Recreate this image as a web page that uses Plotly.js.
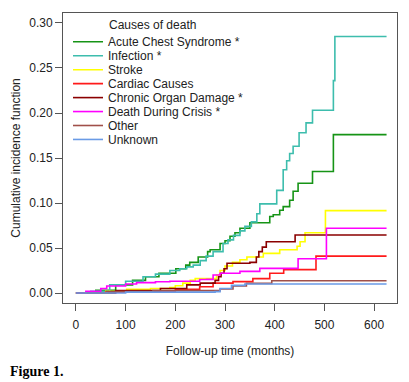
<!DOCTYPE html>
<html>
<head>
<meta charset="utf-8">
<script src="https://cdn.plot.ly/plotly-3.0.1.min.js"></script>
<style>html,body{margin:0;padding:0;background:#fff;}#chart{width:409px;height:382px;}</style>
</head>
<body>
<div id="chart"></div>
<script>
const seriesNames = ["Acute Chest Syndrome *", "Infection *", "Stroke", "Cardiac Causes", "Chronic Organ Damage *", "Death During Crisis *", "Other", "Unknown"];
const seriesColors = ["#169416", "#3dbdad", "#ffff00", "#ff1a1a", "#8b0000", "#ff00ff", "#a0504a", "#6a9be6"];

const acsT = [0, 40, 80, 114, 140, 167, 201, 221, 229, 246, 265, 270, 290, 300, 310, 320, 330, 350, 390, 397, 410, 417, 430, 437, 447, 476, 518, 625];
const acsV = [0, 0.003, 0.009, 0.014, 0.018, 0.022, 0.027, 0.031, 0.034, 0.040, 0.046, 0.048, 0.055, 0.058, 0.063, 0.067, 0.072, 0.078, 0.085, 0.087, 0.092, 0.096, 0.103, 0.113, 0.122, 0.135, 0.176, 0.176];

const infT = [0, 30, 68, 100, 135, 160, 189, 209, 223, 236, 250, 262, 276, 296, 306, 317, 330, 340, 353, 364, 370, 404, 417, 424, 430, 437, 449, 463, 476, 518, 521, 625];
const infV = [0, 0.002, 0.009, 0.013, 0.018, 0.021, 0.025, 0.027, 0.029, 0.031, 0.036, 0.041, 0.046, 0.055, 0.059, 0.064, 0.069, 0.074, 0.079, 0.088, 0.099, 0.114, 0.137, 0.147, 0.155, 0.163, 0.178, 0.189, 0.203, 0.236, 0.285, 0.285];

const strokeT = [0, 60, 102, 150, 189, 200, 215, 230, 240, 283, 290, 300, 315, 330, 344, 377, 410, 445, 451, 461, 502, 625];
const strokeV = [0, 0.002, 0.004, 0.005, 0.006, 0.008, 0.011, 0.014, 0.016, 0.020, 0.025, 0.030, 0.034, 0.037, 0.040, 0.044, 0.048, 0.052, 0.057, 0.067, 0.0915, 0.0915];

const cardT = [0, 60, 130, 200, 249, 276, 316, 356, 390, 418, 483, 625];
const cardV = [0, 0.001, 0.002, 0.004, 0.007, 0.011, 0.0126, 0.016, 0.022, 0.026, 0.041, 0.041];

const codT = [0, 80, 170, 223, 250, 280, 287, 292, 298, 304, 350, 363, 368, 375, 383, 441, 625];
const codV = [0, 0.0026, 0.005, 0.009, 0.011, 0.014, 0.018, 0.022, 0.027, 0.033, 0.034, 0.040, 0.046, 0.051, 0.057, 0.0644, 0.0644];

const crisisT = [0, 20, 50, 62, 100, 122, 160, 189, 249, 263, 276, 290, 330, 370, 447, 504, 625];
const crisisV = [0, 0.002, 0.005, 0.0078, 0.010, 0.0115, 0.0125, 0.013, 0.015, 0.0152, 0.020, 0.022, 0.024, 0.0274, 0.038, 0.072, 0.072];

const otherT = [0, 62, 155, 290, 316, 343, 394, 625];
const otherV = [0, 0.0015, 0.0026, 0.0044, 0.0078, 0.0107, 0.0137, 0.0137];

const unkT = [0, 100, 280, 290, 313, 340, 625];
const unkV = [0, 0.001, 0.0015, 0.005, 0.0085, 0.010, 0.010];

const xTicks = [0, 100, 200, 300, 400, 500, 600];
const yTicks = [0, 0.05, 0.10, 0.15, 0.20, 0.25, 0.30];
const yTickText = ["0.00", "0.05", "0.10", "0.15", "0.20", "0.25", "0.30"];

const allT = [acsT, infT, strokeT, cardT, codT, crisisT, otherT, unkT];
const allV = [acsV, infV, strokeV, cardV, codV, crisisV, otherV, unkV];

const font = "'Liberation Sans', Arial, sans-serif";
const W = 409, H = 382, ML = 63, MR = 12, MT = 13, MB = 79;
const plotH = H - MT - MB;

const legendKey = i => (i === 0 ? 'legend' : 'legend' + (i + 1));

const traces = seriesNames.map((name, i) => ({
  x: allT[i], y: allV[i], name: name, type: 'scatter', mode: 'lines',
  legend: legendKey(i),
  line: {shape: 'hv', color: seriesColors[i], width: 1.6}
}));

const layout = {
  width: W, height: H,
  margin: {l: ML, r: MR, t: MT, b: MB},
  paper_bgcolor: '#fff', plot_bgcolor: '#fff',
  font: {family: font, size: 12, color: '#222'},
  showlegend: true,
  xaxis: {
    range: [-26, 646], tickvals: xTicks, ticktext: xTicks.map(String),
    ticks: 'outside', ticklen: 7, tickcolor: '#555', showgrid: false, zeroline: false,
    showline: true, linecolor: '#555', linewidth: 1, mirror: true,
    ticklabelstandoff: 4,
    tickfont: {family: font, size: 12, color: '#222'},
    title: {text: 'Follow-up time (months)', font: {family: font, size: 12, color: '#222'}, standoff: 15}
  },
  yaxis: {
    range: [-0.0111, 0.3111], tickvals: yTicks, ticktext: yTickText,
    ticks: 'outside', ticklen: 7, tickcolor: '#555', showgrid: false, zeroline: false,
    showline: true, linecolor: '#555', linewidth: 1, mirror: true,
    tickfont: {family: font, size: 12, color: '#222'},
    title: {text: 'Cumulative incidence function', font: {family: font, size: 12, color: '#222'}, standoff: 6}
  },
  annotations: [{
    text: 'Causes of death', xref: 'paper', yref: 'paper',
    x: (152.5 - ML) / (W - ML - MR), y: (H - MB - 25) / plotH,
    xanchor: 'center', yanchor: 'middle', showarrow: false,
    font: {family: font, size: 12, color: '#222'}
  }, {
    text: '<b>Figure 1.</b>', xref: 'paper', yref: 'paper',
    x: (8 - ML) / (W - ML - MR), y: (H - MB - 371.5) / plotH,
    xanchor: 'left', yanchor: 'middle', showarrow: false,
    font: {family: "'Liberation Serif', 'Times New Roman', serif", size: 14, color: '#000'}
  }]
};

seriesNames.forEach((name, i) => {
  const center = 41.3 + 13.95 * i;
  const top = center - 14;
  layout[legendKey(i)] = {
    x: 0.015, y: (H - MB - top) / plotH, xanchor: 'left', yanchor: 'top',
    bgcolor: 'rgba(0,0,0,0)', borderwidth: 0,
    font: {family: font, size: 12, color: '#222'}
  };
});

Plotly.newPlot('chart', traces, layout, {displayModeBar: false, staticPlot: true});
</script>
</body>
</html>
